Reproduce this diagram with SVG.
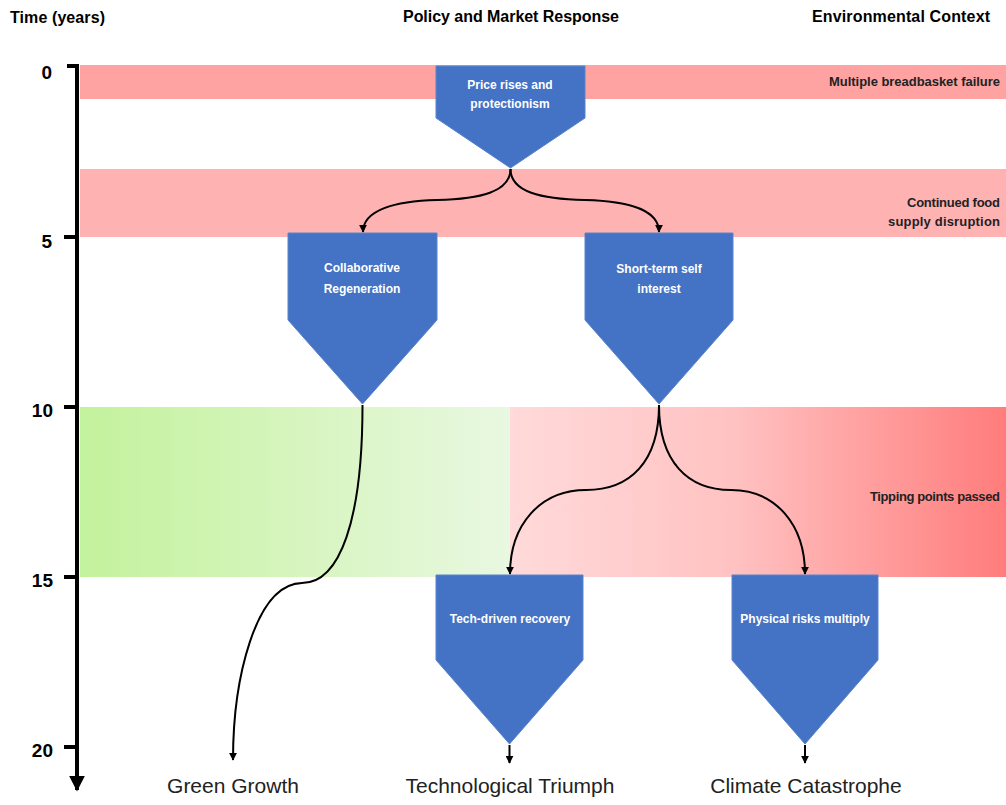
<svg xmlns="http://www.w3.org/2000/svg" width="1006" height="805" viewBox="0 0 1006 805">
<defs>
<linearGradient id="gGreen" x1="0" y1="0" x2="1" y2="0">
<stop offset="0" stop-color="#c3f29c"/>
<stop offset="1" stop-color="#e9f8e1"/>
</linearGradient>
<linearGradient id="gRed" x1="0" y1="0" x2="1" y2="0">
<stop offset="0" stop-color="#ffdada"/>
<stop offset="0.45" stop-color="#ffc2c2"/>
<stop offset="1" stop-color="#ff7c7c"/>
</linearGradient>
<marker id="arr" viewBox="0 0 10 10" refX="9" refY="5" markerWidth="8" markerHeight="8" markerUnits="userSpaceOnUse" orient="auto">
<path d="M0,0 L10,5 L0,10 Z" fill="#000"/>
</marker>
<marker id="axisArr" viewBox="0 0 10 10" refX="9" refY="5" markerWidth="16" markerHeight="16" markerUnits="userSpaceOnUse" orient="auto">
<path d="M0,0 L10,5 L0,10 Z" fill="#000"/>
</marker>
</defs>
<style>
.hdr{font-family:"Liberation Sans",Arial,sans-serif;font-weight:bold;font-size:16px;fill:#000}
.tick{font-family:"Liberation Sans",Arial,sans-serif;font-weight:bold;font-size:19px;fill:#000}
.band{font-family:"Liberation Sans",Arial,sans-serif;font-weight:bold;font-size:13px;fill:#222;text-anchor:end}
.node{fill:#4472c4;stroke:#5a83cc;stroke-width:1}
.ntxt{font-family:"Liberation Sans",Arial,sans-serif;font-weight:bold;font-size:12px;fill:#fff;text-anchor:middle}
.out{font-family:"Liberation Sans",Arial,sans-serif;font-size:21px;fill:#222;text-anchor:middle}
.conn{fill:none;stroke:#000;stroke-width:2}
</style>
<rect width="1006" height="805" fill="#fff"/>

<g id="bands">
<rect x="80" y="65" width="926" height="34" fill="#ffa2a2"/>
<rect x="80" y="169" width="926" height="68" fill="#ffb2b2"/>
<rect x="80" y="407" width="430" height="170" fill="url(#gGreen)"/>
<rect x="510" y="407" width="496" height="170" fill="url(#gRed)"/>
<text class="band" x="1000" y="86" textLength="171">Multiple breadbasket failure</text>
<text class="band" x="1000" y="207" textLength="93">Continued food</text>
<text class="band" x="1000" y="226" textLength="112">supply disruption</text>
<text class="band" x="1000" y="501" textLength="130">Tipping points passed</text>
</g>

<g id="headers">
<text class="hdr" x="10" y="23" textLength="95">Time (years)</text>
<text class="hdr" x="403" y="22" textLength="216">Policy and Market Response</text>
<text class="hdr" x="812" y="22" textLength="178">Environmental Context</text>
</g>

<g id="axis">
<line x1="77" y1="66" x2="77" y2="790" stroke="#000" stroke-width="4" marker-end="url(#axisArr)"/>
<line x1="67" y1="66" x2="79" y2="66" stroke="#000" stroke-width="4"/>
<line x1="64" y1="237" x2="77" y2="237" stroke="#000" stroke-width="4"/>
<line x1="64" y1="407" x2="77" y2="407" stroke="#000" stroke-width="4"/>
<line x1="64" y1="577" x2="77" y2="577" stroke="#000" stroke-width="4"/>
<line x1="64" y1="747" x2="77" y2="747" stroke="#000" stroke-width="4"/>
<text class="tick" x="52" y="79" text-anchor="end">0</text>
<text class="tick" x="52" y="248" text-anchor="end">5</text>
<text class="tick" x="53" y="417" text-anchor="end">10</text>
<text class="tick" x="53" y="587" text-anchor="end">15</text>
<text class="tick" x="53" y="757" text-anchor="end">20</text>
</g>

<g id="node-price">
<path class="node" d="M436,66 H585 V118 L510.5,168 L436,118 Z"/>
<text class="ntxt" x="510" y="89">Price rises and</text>
<text class="ntxt" x="510" y="108">protectionism</text>
</g>
<g id="node-collab">
<path class="node" d="M288,233 H437 V320 L362.5,404 L288,320 Z"/>
<text class="ntxt" x="362" y="272">Collaborative</text>
<text class="ntxt" x="362" y="293">Regeneration</text>
</g>
<g id="node-short">
<path class="node" d="M585,233 H733 V320 L659,404 L585,320 Z"/>
<text class="ntxt" x="659" y="273">Short-term self</text>
<text class="ntxt" x="659" y="293">interest</text>
</g>
<g id="node-tech">
<path class="node" d="M436,575 H583 V660 L509.5,744 L436,660 Z"/>
<text class="ntxt" x="510" y="623">Tech-driven recovery</text>
</g>
<g id="node-phys">
<path class="node" d="M732,575 H878 V660 L805,744 L732,660 Z"/>
<text class="ntxt" x="805" y="623">Physical risks multiply</text>
</g>

<g id="connectors">
<path class="conn" d="M510.5,169 C510.5,192 480,199 437,200 C395,201 363,210 363,232" marker-end="url(#arr)"/>
<path class="conn" d="M510.5,169 C510.5,192 541,199 585,200 C628,201 659,210 659,232" marker-end="url(#arr)"/>
<path class="conn" d="M659,405 C659,462 630,490 586,490 C540,490 510,525 510,574" marker-end="url(#arr)"/>
<path class="conn" d="M659,405 C659,462 688,490 731,490 C776,490 805,525 805,574" marker-end="url(#arr)"/>
<path class="conn" d="M362.5,405 C362.5,520 340,583 302,583 C255,584 233,680 233,760" marker-end="url(#arr)"/>
<path class="conn" d="M509.5,745 V763" marker-end="url(#arr)"/>
<path class="conn" d="M805,745 V763" marker-end="url(#arr)"/>
</g>

<g id="outcomes">
<text class="out" x="233" y="793">Green Growth</text>
<text class="out" x="510" y="793">Technological Triumph</text>
<text class="out" x="806" y="793">Climate Catastrophe</text>
</g>
</svg>
